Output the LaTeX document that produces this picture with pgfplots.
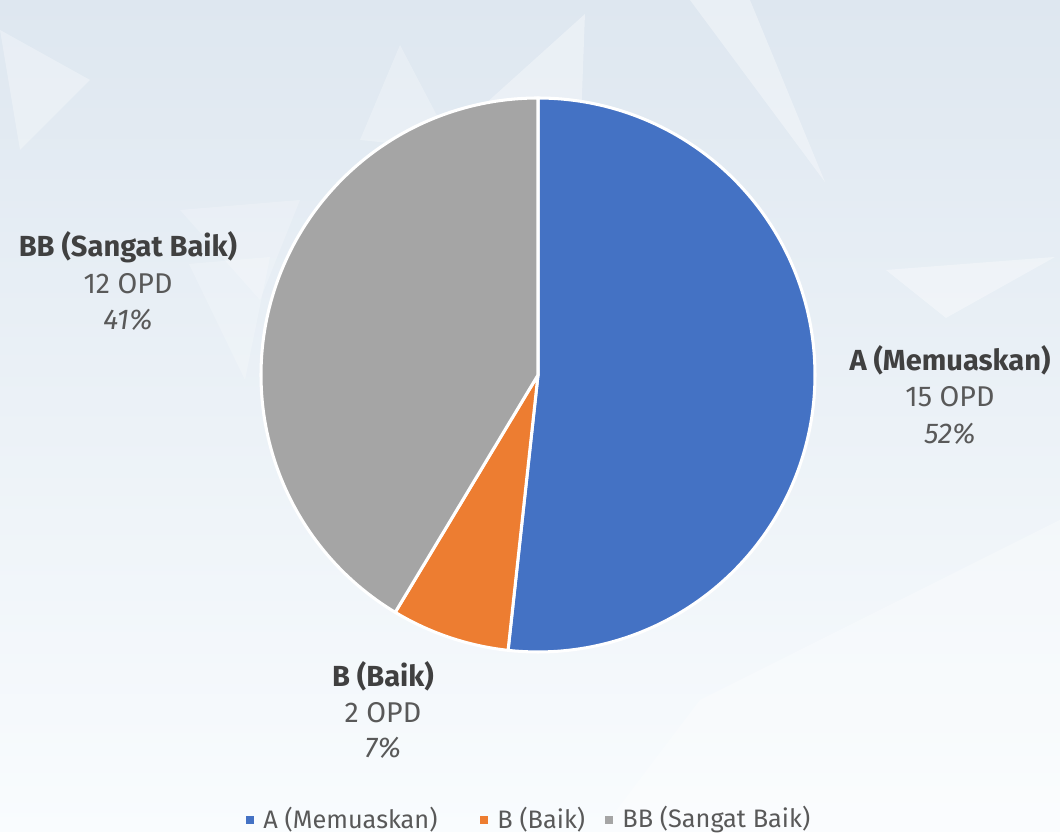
\documentclass[border=0pt]{standalone}
\usepackage{pgfplots}
\pgfplotsset{compat=1.18}
\usepackage{pgfplotstable}
\usepackage{fontspec}
\setmainfont{Fira Sans}
\definecolor{cA}{HTML}{4472C4}
\definecolor{cB}{HTML}{ED7D31}
\definecolor{cC}{HTML}{A5A5A5}
\definecolor{lblname}{HTML}{404040}
\definecolor{lblval}{HTML}{595959}
\definecolor{bgtop}{RGB}{222,231,240}
\definecolor{bgmid}{RGB}{236,243,248}
\definecolor{bgbot}{RGB}{249,252,254}

\pgfplotstableread{
name value
A 15
B 2
BB 12
}\piedata

\begin{document}%
\begin{tikzpicture}
\pgfplotstablegetelem{0}{value}\of\piedata \edef\va{\pgfplotsretval}%
\pgfplotstablegetelem{1}{value}\of\piedata \edef\vb{\pgfplotsretval}%
\pgfplotstablegetelem{2}{value}\of\piedata \edef\vc{\pgfplotsretval}%
\pgfmathsetmacro\tot{\va+\vb+\vc}%
\pgfmathsetmacro\aA{90}%
\pgfmathsetmacro\aB{90-360*\va/\tot}%
\pgfmathsetmacro\aC{\aB-360*\vb/\tot}%
\pgfmathsetmacro\aD{\aC-360*\vc/\tot}%
% background
\shade[top color=bgtop, middle color=bgmid, bottom color=bgbot] (0,0) rectangle (15.9,12.48);
\begin{scope}[shift={(0,12.48)}, x=0.015cm, y=-0.015cm]
  \fill[white, opacity=0.25] (400,45) -- (455,150) -- (360,140) -- cycle;
  \fill[white, opacity=0.35] (585,14) -- (581,122) -- (473,115) -- cycle;
  \fill[white, opacity=0.35] (750,0) -- (825,182) -- (690,0) -- cycle;
  \fill[white, opacity=0.35] (886,270) -- (1055,257) -- (946,318) -- cycle;
  \fill[white, opacity=0.2] (189,264) -- (270,257) -- (245,380) -- cycle;
  \fill[white, opacity=0.3] (0,30) -- (90,80) -- (20,150) -- cycle;
  \fill[white, opacity=0.2] (180,210) -- (300,200) -- (260,300) -- cycle;
  \fill[white, opacity=0.3] (700,700) -- (1060,520) -- (1060,832) -- (600,832) -- cycle;
\end{scope}
\begin{axis}[
  at={(0,0)}, anchor=south west,
  scale only axis, width=15.9cm, height=12.48cm,
  xmin=0, xmax=1060, ymin=0, ymax=832,
  hide axis, clip=false,
]
\addplot[fill=cA, draw=white, line width=1.3pt, line join=round, domain=\aB:\aA, samples=150, variable=\t]
  ({538+277*cos(\t)},{457+277*sin(\t)}) -- (axis cs:538,457) -- cycle;
\addplot[fill=cB, draw=white, line width=1.3pt, line join=round, domain=\aC:\aB, samples=40, variable=\t]
  ({538+277*cos(\t)},{457+277*sin(\t)}) -- (axis cs:538,457) -- cycle;
\addplot[fill=cC, draw=white, line width=1.3pt, line join=round, domain=\aD:\aC, samples=150, variable=\t]
  ({538+277*cos(\t)},{457+277*sin(\t)}) -- (axis cs:538,457) -- cycle;

% data labels
\tikzset{nm/.style={font=\fontsize{12.4}{14}\selectfont\bfseries, text=lblname, inner sep=0pt},
         vl/.style={font=\fontsize{12.2}{14}\selectfont, text=lblval, inner sep=0pt},
         pc/.style={font=\fontsize{12.2}{14}\selectfont\itshape, text=lblval, inner sep=0pt}}
\node[nm] at (axis cs:128,585) {BB (Sangat Baik)};
\node[vl] at (axis cs:128,548) {12 OPD};
\node[pc] at (axis cs:128,512) {41\%};
\node[nm] at (axis cs:950,472) {A (Memuaskan)};
\node[vl] at (axis cs:950,435) {15 OPD};
\node[pc] at (axis cs:950,398) {52\%};
\node[nm] at (axis cs:383,156) {B (Baik)};
\node[vl] at (axis cs:383,119) {2 OPD};
\node[pc] at (axis cs:383,84) {7\%};

% legend
\tikzset{lg/.style={anchor=west, font=\fontsize{10.8}{12}\selectfont, text=lblval, inner sep=0pt}}
\fill[cA] (axis cs:246,8) rectangle (axis cs:254,16);
\node[lg] at (axis cs:263,12) {A (Memuaskan)};
\fill[cB] (axis cs:480,8) rectangle (axis cs:488,16);
\node[lg] at (axis cs:497,12) {B (Baik)};
\fill[cC] (axis cs:605,8) rectangle (axis cs:613,16);
\node[lg] at (axis cs:622,12) {BB (Sangat Baik)};
\end{axis}
\end{tikzpicture}%
\end{document}
